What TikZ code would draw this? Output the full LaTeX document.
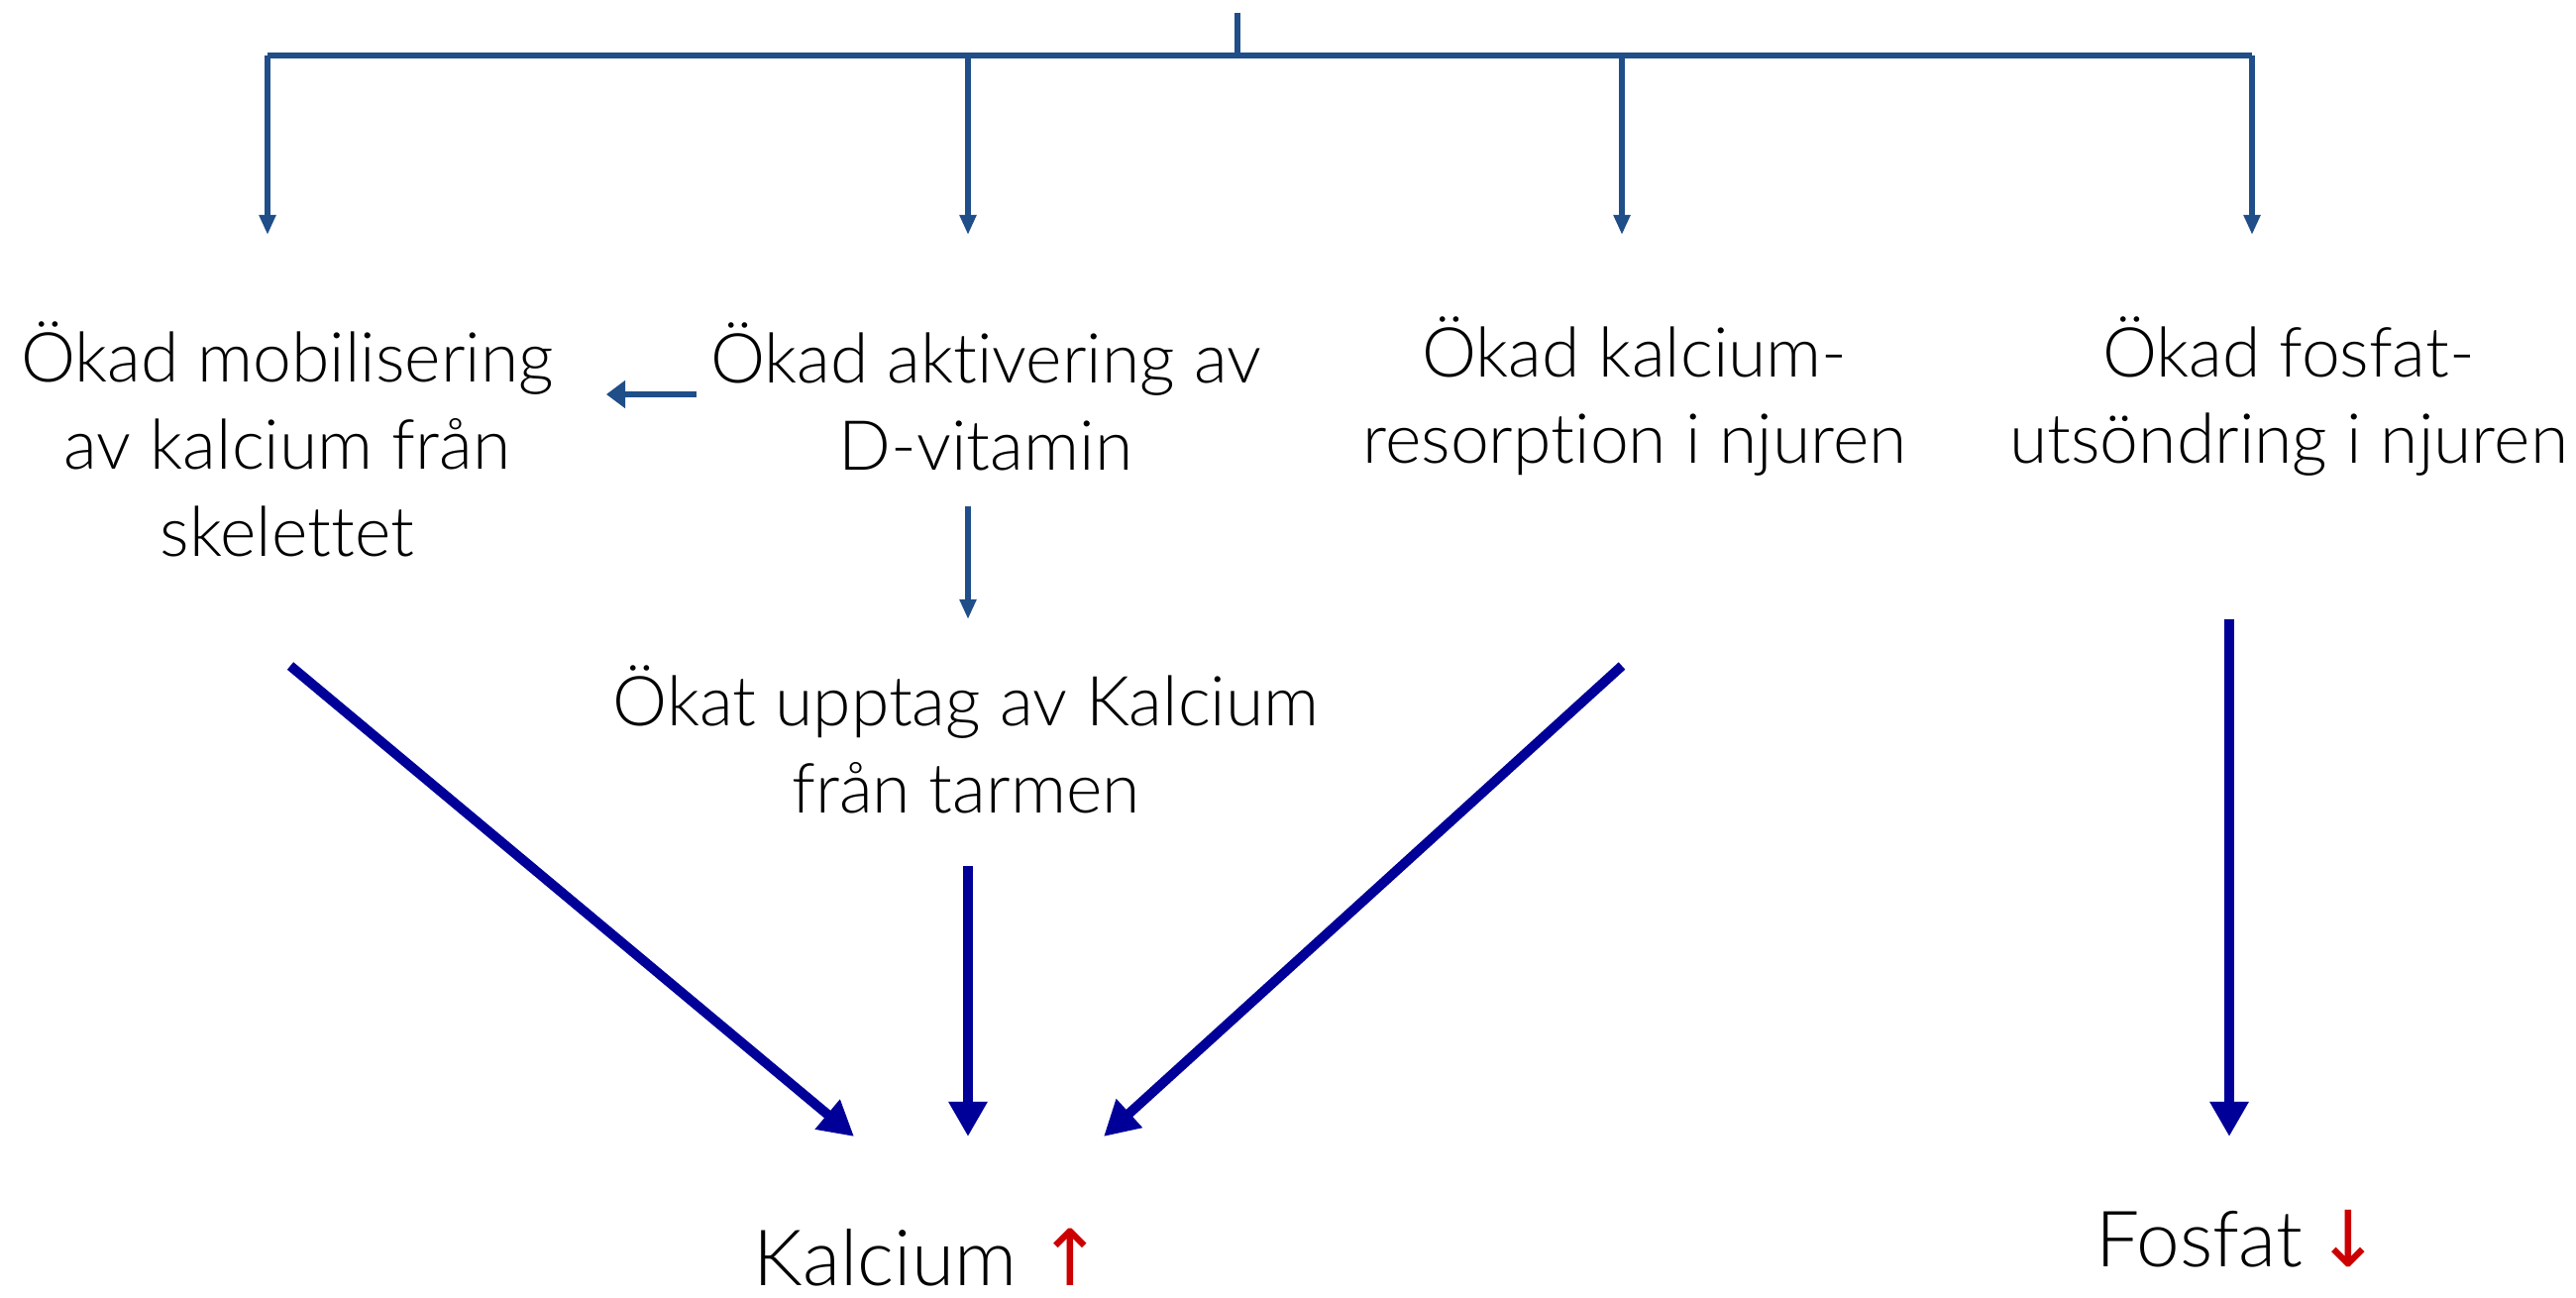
\documentclass[tikz,border=0pt]{standalone}
\usepackage{fontspec}
\setmainfont{Lato Light}[Ligatures=NoCommon]
\newfontfamily\symfont{DejaVu Sans}
\usetikzlibrary{arrows.meta}
\definecolor{thinblue}{RGB}{31,78,137}
\definecolor{deepblue}{RGB}{0,0,153}
\definecolor{upred}{RGB}{204,0,0}
\begin{document}
\begin{tikzpicture}[x=0.01cm,y=-0.01cm,
  effect/.style={align=center,font=\fontsize{19.8}{25}\selectfont,inner sep=0pt},
  result/.style={font=\fontsize{22.3}{26}\selectfont,inner sep=0pt,anchor=base},
  feed/.style={draw=thinblue,line width=1.6pt,-{Triangle[width=0.16cm,length=0.2cm]}},
  sidefeed/.style={draw=thinblue,line width=1.7pt,-{Triangle[width=0.27cm,length=0.19cm]}},
  bus/.style={draw=thinblue,line width=1.7pt},
  main/.style={draw=deepblue,line width=2.8pt,-{Triangle[width=0.37cm,length=0.35cm]}}]
\useasboundingbox (0,0) rectangle (2600,1309);

% effect texts
\node[effect] (mob) at (290,443) {Ökad mobilisering\\av kalcium från\\skelettet};
\node[effect] (dvit) at (995,400) {Ökad aktivering av\\D-vitamin};
\node[effect] (resorp) at (1650,400) {Ökad kalcium-\\resorption i njuren};
\node[effect] (fosf) at (2310,400) {Ökad fosfat-\\utsöndring i njuren};
\node[effect] (tarm) at (975,746) {Ökat upptag av Kalcium\\från tarmen};

% outcomes
\node[result] (ca) at (937,1297) {Kalcium {\symfont\color{upred}↑}};
\node[result] (po) at (2259,1278) {Fosfat\,{\symfont\color{upred}↓}};

% distribution bus at the top
\coordinate (stem) at (1249,13);
\coordinate (busL) at (270,56);
\coordinate (busR) at (2273,56);
\draw[bus] (stem) -- (stem |- busL);
\draw[bus] (busL) -- (busR);
\coordinate (t1) at (270,237);
\coordinate (t2) at (977,237);
\coordinate (t3) at (1637,237);
\coordinate (t4) at (2273,237);
\draw[feed] (busL) -- (t1);
\draw[feed] (t2 |- busL) -- (t2);
\draw[feed] (t3 |- busL) -- (t3);
\draw[feed] (busR) -- (t4);

% D-vitamin side effects
\coordinate (sideA) at (703,398);
\coordinate (sideB) at (612,398);
\draw[sidefeed] (sideA) -- (sideB);
\coordinate (dA) at (977,511);
\coordinate (dB) at (977,625);
\draw[feed] (dA) -- (dB);

% converging effects
\coordinate (m1) at (293,672);
\coordinate (m2) at (862,1147);
\coordinate (g1) at (977,874);
\coordinate (g2) at (977,1147);
\coordinate (r1) at (1637,672);
\coordinate (r2) at (1114,1147);
\coordinate (f1) at (2250,625);
\coordinate (f2) at (2250,1147);
\draw[main] (m1) -- (m2);
\draw[main] (g1) -- (g2);
\draw[main] (r1) -- (r2);
\draw[main] (f1) -- (f2);
\end{tikzpicture}
\end{document}
